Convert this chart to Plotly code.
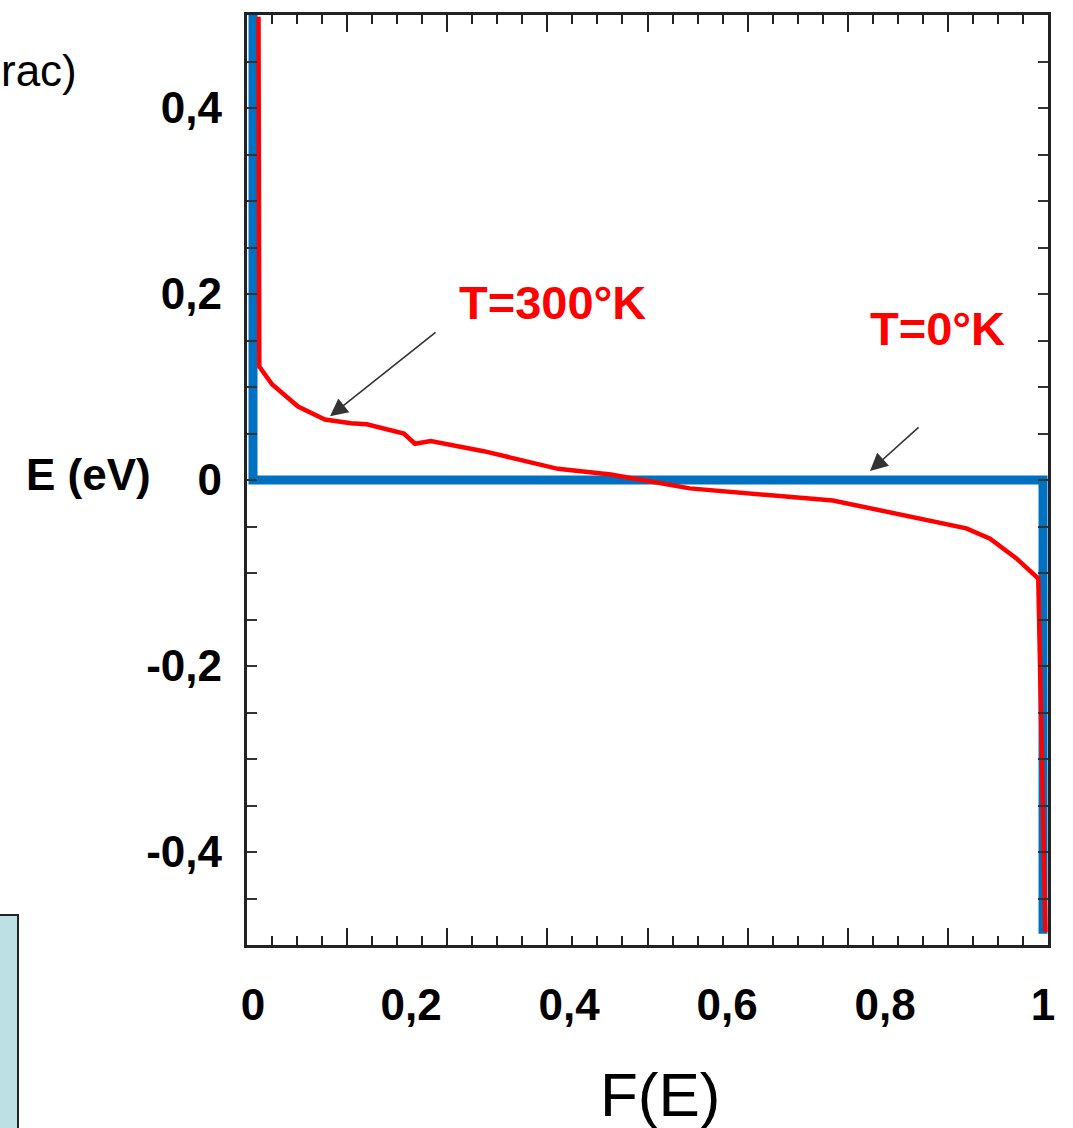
import plotly.graph_objects as go

# ---------------- data ----------------
# Fermi-Dirac occupation F(E) at T = 0 K (step function)
F_0K = [0.0, 0.0, 1.0, 1.0]
E_0K = [0.5, 0.0, 0.0, -0.488]

# Fermi-Dirac occupation F(E) at T = 300 K
F_300K = [0.007, 0.008, 0.024, 0.057, 0.091, 0.124, 0.144, 0.165, 0.191, 0.205,
          0.225, 0.292, 0.386, 0.453, 0.553, 0.734, 0.903, 0.933, 0.966, 0.994,
          0.996, 1.003]
E_300K = [0.498, 0.122, 0.103, 0.079, 0.065, 0.061, 0.060, 0.055, 0.050, 0.039,
          0.042, 0.031, 0.012, 0.006, -0.009, -0.022, -0.052, -0.063, -0.084, -0.106,
          -0.183, -0.486]

x_tickvals = [0, 0.2, 0.4, 0.6, 0.8, 1]
x_ticktext = ["0", "0,2", "0,4", "0,6", "0,8", "1"]
y_tickvals = [-0.4, -0.2, 0, 0.2, 0.4]
y_ticktext = ["-0,4", "-0,2", "0", "0,2", "0,4"]

FONT = "Liberation Sans, Arial, sans-serif"
W, H = 1073, 1128
ML, MR, MT, MB = 247, 25, 12, 183

fig = go.Figure()
fig.add_trace(go.Scatter(x=F_0K, y=E_0K, mode="lines",
                         line=dict(color="#0070C0", width=9),
                         hoverinfo="skip", showlegend=False))
fig.add_trace(go.Scatter(x=F_300K, y=E_300K, mode="lines",
                         line=dict(color="#FF0000", width=4.5),
                         hoverinfo="skip", showlegend=False))
# anchor trace for the frame (scanned graph border with its tick marks)
fig.add_trace(go.Scatter(x=[None], y=[None], xaxis="x2", yaxis="y2",
                         mode="lines", hoverinfo="skip", showlegend=False))

fig.update_layout(
    width=W, height=H,
    margin=dict(l=ML, r=MR, t=MT, b=MB, pad=0),
    paper_bgcolor="white", plot_bgcolor="white",
    showlegend=False,
    xaxis=dict(range=[-0.0076, 1.0063], tickvals=x_tickvals, ticktext=x_ticktext,
               ticks="", showgrid=False, zeroline=False, showline=False,
               tickfont=dict(family=FONT, size=44, color="black", weight="bold"),
               ticklabelstandoff=30),
    yaxis=dict(range=[-0.5, 0.5], tickvals=y_tickvals, ticktext=y_ticktext,
               ticks="", showgrid=False, zeroline=False, showline=False,
               tickfont=dict(family=FONT, size=44, color="black", weight="bold"),
               ticklabelstandoff=24),
    xaxis2=dict(overlaying="x", anchor="y2", range=[0, 1], tick0=0, dtick=0.125,
                ticks="inside", ticklen=17, tickwidth=2, tickcolor="#222",
                minor=dict(tick0=0, dtick=0.03125, ticks="inside", ticklen=9,
                           tickwidth=2, tickcolor="#222"),
                showticklabels=False, showgrid=False, zeroline=False,
                showline=True, linewidth=3, linecolor="#222", mirror="ticks"),
    yaxis2=dict(overlaying="y", anchor="x2", range=[-0.5, 0.5], tick0=0, dtick=0.05,
                ticks="inside", ticklen=10, tickwidth=2, tickcolor="#333",
                showticklabels=False, showgrid=False, zeroline=False,
                showline=True, linewidth=3, linecolor="#222", mirror="ticks"),
)

pw = W - ML - MR
ph = H - MT - MB


def px(xp):
    return (xp - ML) / pw


def py(yp):
    return (H - MB - yp) / ph


annotations = [
    dict(text="<b>T=300°K</b>", x=px(552), y=py(300), xref="paper", yref="paper",
         showarrow=False, font=dict(family=FONT, size=47, color="#FF0000"),
         xanchor="center", yanchor="middle"),
    dict(text="<b>T=0°K</b>", x=px(937), y=py(327), xref="paper", yref="paper",
         showarrow=False, font=dict(family=FONT, size=47, color="#FF0000"),
         xanchor="center", yanchor="middle"),
    dict(text="<b>E (eV)</b>", x=px(88), y=py(473), xref="paper", yref="paper",
         showarrow=False, font=dict(family=FONT, size=44, color="black"),
         xanchor="center", yanchor="middle"),
    dict(text="F(E)", x=px(660), y=py(1095), xref="paper", yref="paper",
         showarrow=False, font=dict(family=FONT, size=62, color="black"),
         xanchor="center", yanchor="middle"),
    dict(text="rac)", x=px(79), y=py(68), xref="paper", yref="paper",
         showarrow=False, font=dict(family=FONT, size=44, color="black"),
         xanchor="right", yanchor="middle"),
    # hand-drawn pointer arrows from the scanned figure
    dict(text="", x=0.0975, y=0.0685, xref="x", yref="y", ax=107, ay=-85,
         showarrow=True, arrowhead=2, arrowsize=2.2, arrowwidth=1.6,
         arrowcolor="#333"),
    dict(text="", x=0.781, y=0.0096, xref="x", yref="y", ax=50, ay=-45,
         showarrow=True, arrowhead=2, arrowsize=2.2, arrowwidth=1.6,
         arrowcolor="#333"),
]
fig.update_layout(annotations=annotations)

# light-blue box cut off at the lower-left edge of the slide
fig.add_shape(type="rect", xref="paper", yref="paper",
              x0=px(-5), x1=px(18), y0=py(1135), y1=py(915),
              fillcolor="#BCE0E3", line=dict(color="#222", width=2), layer="above")

fig.write_html("out.html")
